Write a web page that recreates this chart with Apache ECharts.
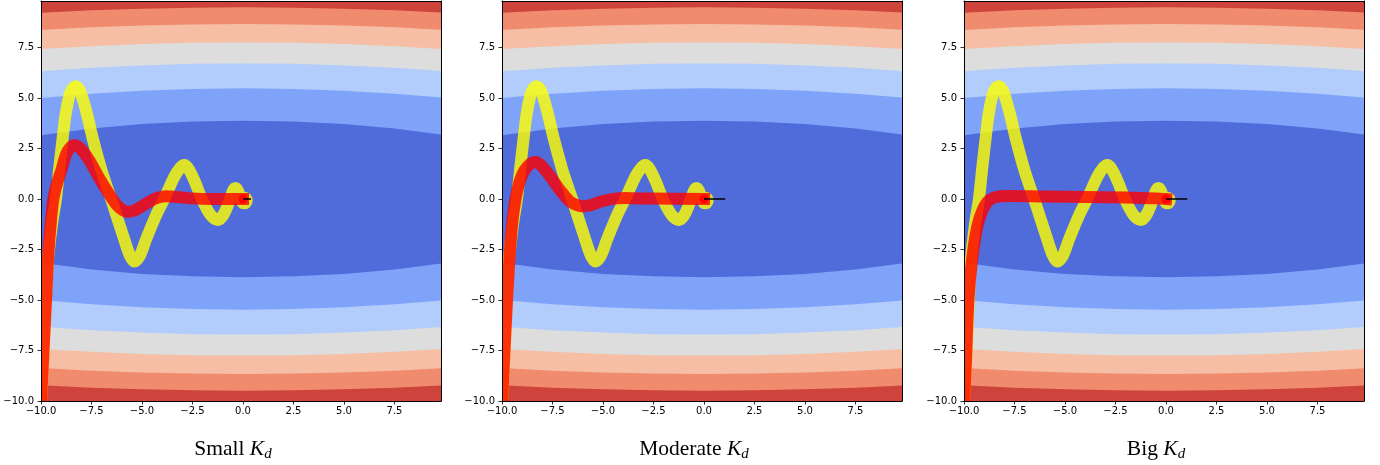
<!DOCTYPE html>
<html><head><meta charset="utf-8">
<script src="https://cdn.jsdelivr.net/npm/echarts@6/dist/echarts.min.js"></script>
<style>html,body{margin:0;padding:0;background:#fff}#c{width:1380px;height:465px}</style>
</head><body><div id="c"></div>
<script>
// ---- data ----
const xTicks = [-10, -7.5, -5, -2.5, 0, 2.5, 5, 7.5];
const yTicks = [-10, -7.5, -5, -2.5, 0, 2.5, 5, 7.5];
const panelNames = ['Small', 'Moderate', 'Big'];

// contour band boundaries (upper half, mirrored below), sampled at bandX
const bandX  = [-10, -7.5, -5, -2.5, 0, 2.5, 5, 7.5, 9.8];
const edge90 = [9.22, 9.34, 9.42, 9.47, 9.49, 9.47, 9.42, 9.34, 9.23];
const edge75 = [8.37, 8.50, 8.59, 8.64, 8.66, 8.64, 8.59, 8.50, 8.38];
const edge60 = [7.42, 7.56, 7.67, 7.73, 7.75, 7.73, 7.67, 7.56, 7.43];
const edge45 = [6.32, 6.50, 6.61, 6.69, 6.71, 6.69, 6.61, 6.50, 6.34];
const edge30 = [5.00, 5.21, 5.36, 5.45, 5.48, 5.45, 5.36, 5.21, 5.02];
const edge15 = [3.16, 3.49, 3.71, 3.83, 3.87, 3.83, 3.71, 3.49, 3.19];
const bandColors = ['#ce433b', '#f08b6d', '#f6bfa5', '#dddddd', '#b2ccfb', '#80a3fa', '#506cda'];

// yellow trajectory (same in all panels)
const yellowPath = [
  [-10,-10],[-9.85,-7],[-9.65,-3],[-9.45,-1.2],[-9.26,0],[-9.1,1.5],[-8.93,3],[-8.78,4.2],
  [-8.6,5.1],[-8.45,5.45],[-8.27,5.58],[-8.05,5.3],[-7.75,4.3],[-7.44,3.0],[-7.0,1.4],[-6.53,0],
  [-5.88,-2.0],[-5.6,-2.8],[-5.38,-3.1],[-5.1,-2.8],[-4.8,-2.0],[-4.3,-0.8],[-3.9,0],[-3.4,1.1],
  [-3.1,1.55],[-2.91,1.68],[-2.7,1.5],[-2.4,0.9],[-2.04,0],[-1.6,-0.8],[-1.25,-1.04],[-0.95,-0.75],
  [-0.64,0],[-0.5,0.4],[-0.38,0.54],[-0.25,0.4],[-0.12,0.0],[0.0,-0.2],[0.12,-0.2],[0.18,-0.05],
  [0.12,0.05],[0.0,0.0]
];
// red trajectories
const redSmall = [
  [-10,-10],[-9.9,-8],[-9.75,-5],[-9.63,-2.6],[-9.5,-1],[-9.39,0],[-9.2,0.8],[-9.0,1.4],
  [-8.76,2.2],[-8.55,2.55],[-8.35,2.66],[-8.05,2.5],[-7.6,1.9],[-7.1,1.0],[-6.6,0.2],[-6.2,-0.35],
  [-5.8,-0.62],[-5.4,-0.58],[-4.9,-0.3],[-4.4,0.0],[-3.9,0.13],[-3.3,0.1],[-2.5,0.03],[-1.5,0.0],[0,0]
];
const redModerate = [
  [-10,-10],[-9.9,-8],[-9.75,-5],[-9.6,-2.5],[-9.45,-0.8],[-9.25,0.4],[-9.0,1.2],[-8.7,1.65],
  [-8.38,1.83],[-8.1,1.7],[-7.6,1.1],[-7.1,0.4],[-6.6,-0.15],[-6.1,-0.35],[-5.6,-0.3],[-5.0,-0.1],
  [-4.3,0.03],[-3.5,0.04],[-2.5,0.02],[0,0]
];
const redBig = [
  [-10,-10],[-9.9,-8],[-9.78,-5],[-9.6,-3],[-9.35,-1.4],[-9.1,-0.6],[-8.8,-0.1],[-8.4,0.1],
  [-7.8,0.15],[-6,0.12],[-4,0.1],[-2,0.07],[-0.5,0.03],[0,0]
];
const redPaths = [redSmall, redModerate, redBig];
const blackEnd = [0.4, 1.05, 1.05];

// ---- layout ----
const gridLeft = [41, 502, 964];
const XMIN = -10, XMAX = 9.8, YMIN = -10, YMAX = 9.8;
const fmt = v => (Math.abs(v) < 1e-9 ? 0 : v).toFixed(1).replace('-', '\u2212');

const edges = [edge90, edge75, edge60, edge45, edge30, edge15];

function bandRender(params, api) {
  const k = api.value(2);
  const color = bandColors[k];
  if (k === 0) {
    const p0 = api.coord([XMIN, YMAX]);
    const p1 = api.coord([XMAX, YMIN]);
    return {type: 'rect', shape: {x: p0[0], y: p0[1], width: p1[0]-p0[0], height: p1[1]-p0[1]},
            style: {fill: color}};
  }
  const e = edges[k-1];
  const pts = [];
  for (let i = 0; i < bandX.length; i++) pts.push(api.coord([bandX[i], e[i]]));
  for (let i = bandX.length-1; i >= 0; i--) pts.push(api.coord([bandX[i], -e[i]]));
  return {type: 'polygon', shape: {points: pts}, style: {fill: color}};
}

function pathRender(path, stroke, width, cap) {
  return function (params, api) {
    return {type: 'polyline', shape: {points: path.map(p => api.coord(p)), smooth: 0.3},
      style: {stroke: stroke, fill: null, lineWidth: width, lineCap: cap, lineJoin: 'round'}};
  };
}

const grids = [], xAxes = [], yAxes = [], series = [], titles = [];
const tickLabel = {fontSize: 10, color: '#000', fontFamily: 'DejaVu Sans'};
for (let p = 0; p < 3; p++) {
  grids.push({left: gridLeft[p], top: 1, width: 400, height: 400});
}
for (let p = 0; p < 3; p++) {
  xAxes.push({type: 'value', gridIndex: p, min: XMIN, max: XMAX, position: 'bottom', z: 10,
    axisLine: {show: true, onZero: false, lineStyle: {color: '#000', width: 1}},
    axisTick: {show: true, length: 3.5, lineStyle: {color: '#000', width: 0.8}, customValues: xTicks},
    axisLabel: Object.assign({margin: 5, formatter: fmt, customValues: xTicks}, tickLabel),
    splitLine: {show: false}});
  yAxes.push({type: 'value', gridIndex: p, min: YMIN, max: YMAX, position: 'left', z: 10,
    axisLine: {show: true, onZero: false, lineStyle: {color: '#000', width: 1}},
    axisTick: {show: true, length: 3.5, lineStyle: {color: '#000', width: 0.8}, customValues: yTicks},
    axisLabel: Object.assign({margin: 7, formatter: fmt, customValues: yTicks}, tickLabel),
    splitLine: {show: false}});
}
for (let p = 0; p < 3; p++) {
  xAxes.push({type: 'value', gridIndex: p, min: XMIN, max: XMAX, position: 'top', z: 10,
    axisLine: {show: true, onZero: false, lineStyle: {color: '#000', width: 1}},
    axisTick: {show: false}, axisLabel: {show: false}, splitLine: {show: false}});
  yAxes.push({type: 'value', gridIndex: p, min: YMIN, max: YMAX, position: 'right', z: 10,
    axisLine: {show: true, onZero: false, lineStyle: {color: '#000', width: 1}},
    axisTick: {show: false}, axisLabel: {show: false}, splitLine: {show: false}});
}
for (let p = 0; p < 3; p++) {
  series.push({type: 'custom', xAxisIndex: p, yAxisIndex: p, clip: true, silent: true, z: 1,
    renderItem: bandRender, encode: {x: 0, y: 1},
    data: bandColors.map((c, i) => [0, 0, i])});
  series.push({type: 'custom', xAxisIndex: p, yAxisIndex: p, clip: true, silent: true, z: 3,
    renderItem: pathRender(yellowPath, 'rgba(255,255,0,0.8)', 12, 'square'),
    encode: {x: 0, y: 1}, data: [yellowPath[0]]});
  series.push({type: 'custom', xAxisIndex: p, yAxisIndex: p, clip: true, silent: true, z: 4,
    renderItem: pathRender(redPaths[p], 'rgba(255,0,0,0.8)', 12, 'square'),
    encode: {x: 0, y: 1}, data: [redPaths[p][0]]});
  series.push({type: 'scatter', xAxisIndex: p, yAxisIndex: p, data: [[0, 0]], symbolSize: 9,
    silent: true, z: 5, itemStyle: {color: 'red', opacity: 0.9}});
  series.push({type: 'line', xAxisIndex: p, yAxisIndex: p, data: [[0, 0], [blackEnd[p], 0]],
    showSymbol: false, silent: true, z: 6,
    lineStyle: {color: '#000', width: 1.5, cap: 'butt'}});
  titles.push({
    text: '{n|' + panelNames[p] + ' }{k|K}{s|d}',
    left: gridLeft[p] + 192, top: 438, textAlign: 'center', padding: 0,
    textStyle: {fontWeight: 'normal', rich: {
      n: {fontFamily: 'Liberation Serif', fontSize: 21.5, fontWeight: 'normal', color: '#000', lineHeight: 21, verticalAlign: 'top'},
      k: {fontFamily: 'Liberation Serif', fontSize: 21.5, fontWeight: 'normal', fontStyle: 'italic', color: '#000', lineHeight: 21, verticalAlign: 'top'},
      s: {fontFamily: 'Liberation Serif', fontSize: 15, fontWeight: 'normal', fontStyle: 'italic', color: '#000', lineHeight: 15, padding: [9, 0, 0, 0], verticalAlign: 'top'}
    }}
  });
}

const chart = echarts.init(document.getElementById('c'), null, {renderer: 'canvas'});
chart.setOption({animation: false, title: titles, grid: grids, xAxis: xAxes, yAxis: yAxes, series: series});
</script></body></html>
